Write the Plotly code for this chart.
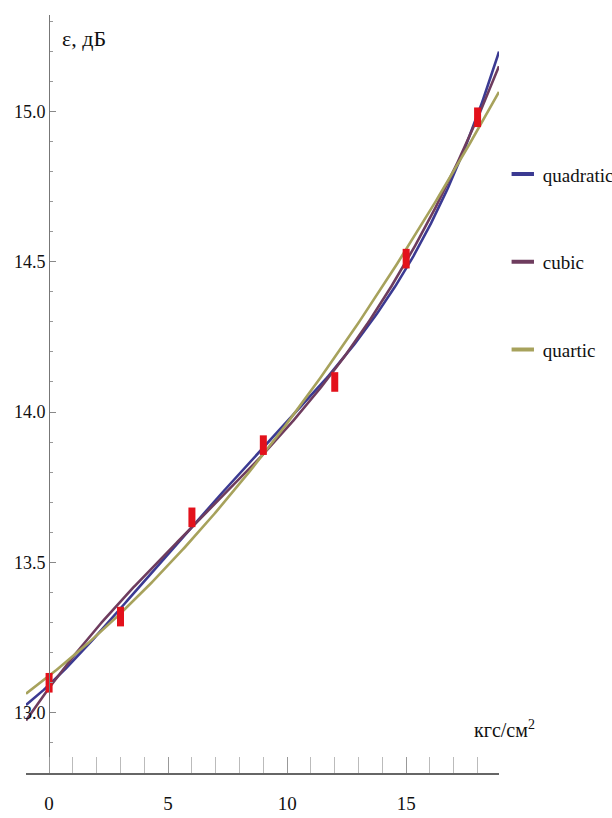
import numpy as np
import plotly.graph_objects as go

# measured points: pressure (kgf/cm^2) vs epsilon (dB)
pressure = [0, 3, 6, 9, 12, 15, 18]
epsilon = [13.10, 13.32, 13.65, 13.89, 14.10, 14.51, 14.98]

# legend labels, colours, and the polynomial degree drawn in each colour
fit_names = ["quadratic", "cubic", "quartic"]
fit_colors = ["#3b3a92", "#6e3c5e", "#a7a25c"]
fit_degrees = [4, 3, 2]

x_min, x_max = -0.97, 18.9
y_min, y_max = 12.8, 15.32

xs = np.linspace(x_min, x_max, 300)
font_family = "Liberation Serif, Times New Roman, serif"

fig = go.Figure()

for name, deg, col in zip(fit_names, fit_degrees, fit_colors):
    coef = np.polyfit(pressure, epsilon, deg)
    fig.add_trace(go.Scatter(
        x=xs, y=np.polyval(coef, xs), mode="lines",
        line=dict(color=col, width=2.6), showlegend=False, hoverinfo="skip",
    ))

fig.add_trace(go.Scatter(
    x=pressure, y=epsilon, mode="markers", showlegend=False,
    marker=dict(symbol="line-ns", size=14, color="#e3111b",
                line=dict(color="#e3111b", width=7)),
))

# legend entries: short thick dashes
for name, col in zip(fit_names, fit_colors):
    fig.add_trace(go.Scatter(
        x=[None], y=[None], mode="markers", name=name, legendgroup=name,
        marker=dict(symbol="line-ew", size=16, color=col,
                    line=dict(color=col, width=4)),
    ))

fig.update_layout(
    width=612, height=818,
    margin=dict(l=26, r=113, t=15, b=45, autoexpand=False),
    paper_bgcolor="white", plot_bgcolor="white",
    font=dict(family=font_family, size=17, color="#111"),
    legend=dict(x=1.008, y=0.815, xanchor="left", yanchor="top",
                tracegroupgap=60, font=dict(size=19, family=font_family),
                bgcolor="rgba(0,0,0,0)", itemwidth=30),
    xaxis=dict(
        range=[x_min, x_max], showgrid=False, zeroline=False,
        showline=True, linecolor="#666", linewidth=2,
        tickvals=[0, 5, 10, 15], ticktext=["0", "5", "10", "15"],
        ticks="inside", ticklen=16, tickwidth=1, tickcolor="#999",
        ticklabelstandoff=12, tickfont=dict(size=19),
        minor=dict(dtick=1, tick0=0, ticks="inside", ticklen=16,
                   tickcolor="#bbb", tickwidth=1),
    ),
    yaxis=dict(
        range=[y_min, y_max], showgrid=False, zeroline=False,
        anchor="free", position=(0 - x_min) / (x_max - x_min),
        showline=True, linecolor="#777", linewidth=1,
        tickvals=[13.0, 13.5, 14.0, 14.5, 15.0],
        ticktext=["13.0", "13.5", "14.0", "14.5", "15.0"],
        ticks="inside", ticklen=6, tickwidth=1, tickcolor="#888",
        tickfont=dict(size=18),
        minor=dict(dtick=0.1, tick0=13.0, ticks="inside", ticklen=3,
                   tickcolor="#999", tickwidth=1),
    ),
)

fig.add_annotation(x=0.45, y=15.29, xref="x", yref="y", text="ε, дБ",
                   showarrow=False, xanchor="left", yanchor="top",
                   font=dict(size=22, family=font_family))
fig.add_annotation(x=17.75, y=12.9, xref="x", yref="y",
                   text="кгс/см<sup>2</sup>", showarrow=False,
                   xanchor="left", yanchor="bottom",
                   font=dict(size=20, family=font_family))

fig.write_html("out.html")
